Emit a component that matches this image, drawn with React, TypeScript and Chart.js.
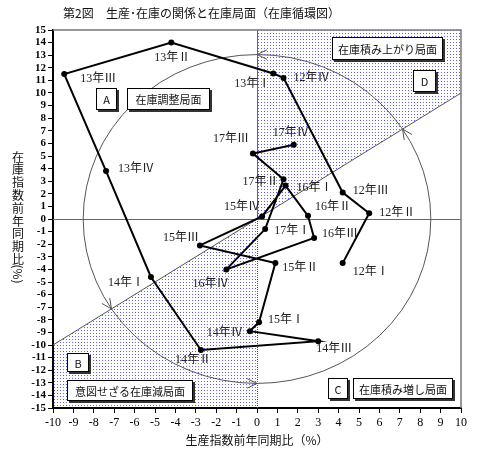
import React, { useEffect, useRef } from "react";
import { Chart, registerables } from "chart.js";

Chart.register(...registerables);

// ---- data ----
const QUARTERS = [
  "12年Ⅰ", "12年Ⅱ", "12年Ⅲ", "12年Ⅳ",
  "13年Ⅰ", "13年Ⅱ", "13年Ⅲ", "13年Ⅳ",
  "14年Ⅰ", "14年Ⅱ", "14年Ⅲ", "14年Ⅳ",
  "15年Ⅰ", "15年Ⅱ", "15年Ⅲ", "15年Ⅳ",
  "16年Ⅰ", "16年Ⅱ", "16年Ⅲ", "16年Ⅳ",
  "17年Ⅰ", "17年Ⅱ", "17年Ⅲ", "17年Ⅳ",
];
// 生産指数前年同期比 (x)
const PRODUCTION = [
  4.2, 5.5, 4.2, 1.3,
  0.8, -4.2, -9.45, -7.4,
  -5.2, -2.75, 3.0, -0.35,
  0.1, 0.9, -2.8, 0.25,
  1.4, 2.5, 2.8, -1.5,
  0.4, 1.3, -0.2, 1.8,
];
// 在庫指数前年同期比 (y)
const INVENTORY = [
  -3.5, 0.45, 2.1, 11.2,
  11.55, 14.0, 11.5, 3.8,
  -4.6, -10.4, -9.7, -8.9,
  -8.2, -3.5, -2.1, 0.2,
  2.65, 0.25, -1.5, -4.0,
  -0.8, 3.15, 5.2, 5.9,
];
const X_MIN = -10, X_MAX = 10, Y_MIN = -15, Y_MAX = 15;

const TITLE_NO = "第2図";
const TITLE = "生産･在庫の関係と在庫局面（在庫循環図）";
const X_TITLE = "生産指数前年同期比（%）";
const Y_TITLE_CHARS = ["在", "庫", "指", "数", "前", "年", "同", "期", "比"];
const Y_TITLE_UNIT = "(%)";

// cycle ellipse radii (data units)
const CYCLE_RX = 8.52, CYCLE_RY = 13.05;

// ---- layout (not data) ----
// label offsets: [dx, dy, align]
const LABEL_POS: [number, number, CanvasTextAlign][] = [
  [10, 9, "left"], [10, 0, "left"], [10, -2, "left"], [10, 0, "left"],
  [-3, 10, "right"], [1, 15, "center"], [16, 5, "left"], [12, -2, "left"],
  [-7, 6, "right"], [-8, 10, "center"], [-2, 8, "left"], [-7, 2, "right"],
  [9, -2, "left"], [7, 5, "left"], [-1, -8, "right"], [-2, -10, "right"],
  [11, 2, "left"], [7, -9, "left"], [8, -4, "left"], [-16, 14, "center"],
  [9, 2, "left"], [-5, 3, "right"], [-4, -15, "right"], [-3, -12, "center"],
];
// boxes: text, center x, center y (data units), width, height (px)
const BOXES: [string, number, number, number, number][] = [
  ["A", -7.36, 9.52, 21, 22],
  ["在庫調整局面", -4.36, 9.52, 83, 22],
  ["在庫積み上がり局面", 6.4, 13.53, 111, 23],
  ["D", 8.22, 10.95, 23, 22],
  ["B", -8.76, -11.39, 22, 19],
  ["意図せざる在庫減局面", -6.21, -13.61, 126, 21],
  ["C", 3.97, -13.45, 20, 21],
  ["在庫積み増し局面", 7.16, -13.45, 100, 21],
];

const CJK = "'Noto Sans CJK JP'";
const SERIF = "'Liberation Serif', 'Noto Sans CJK JP'";

function makePattern(ctx: CanvasRenderingContext2D) {
  const c = document.createElement("canvas");
  c.width = 3;
  c.height = 3;
  const g = c.getContext("2d")!;
  g.fillStyle = "rgb(95,95,245)";
  g.fillRect(0, 0, 1, 1);
  return ctx.createPattern(c, "repeat")!;
}

const cyclePlugin = {
  id: "cycle",
  beforeDatasetsDraw(chart: any) {
    const { ctx, chartArea: a, scales } = chart;
    const xs = scales.x, ys = scales.y;
    const px = (v: number) => xs.getPixelForValue(v);
    const py = (v: number) => ys.getPixelForValue(v);
    ctx.save();
    ctx.beginPath();
    ctx.rect(a.left, a.top, a.right - a.left, a.bottom - a.top);
    ctx.clip();

    // shaded regions D and B
    ctx.fillStyle = makePattern(ctx);
    const poly = (pts: number[][]) => {
      ctx.beginPath();
      pts.forEach((p, i) => (i ? ctx.lineTo(px(p[0]), py(p[1])) : ctx.moveTo(px(p[0]), py(p[1]))));
      ctx.closePath();
      ctx.fill();
    };
    poly([[0, 0], [X_MAX, X_MAX], [X_MAX, Y_MAX], [0, Y_MAX]]);
    poly([[0, 0], [X_MIN, X_MIN], [X_MIN, Y_MIN], [0, Y_MIN]]);

    // zero lines
    ctx.lineWidth = 1;
    ctx.strokeStyle = "#666";
    ctx.beginPath();
    ctx.moveTo(a.left, py(0) + 0.5);
    ctx.lineTo(a.right, py(0) + 0.5);
    ctx.moveTo(px(0) + 0.5, a.top);
    ctx.lineTo(px(0) + 0.5, py(0));
    ctx.stroke();
    ctx.strokeStyle = "rgb(60,60,230)";
    ctx.setLineDash([1, 1]);
    ctx.beginPath();
    ctx.moveTo(px(0) + 0.5, py(0));
    ctx.lineTo(px(0) + 0.5, a.bottom);
    ctx.stroke();
    ctx.setLineDash([]);

    // diagonal y = x
    ctx.strokeStyle = "#555";
    ctx.beginPath();
    ctx.moveTo(px(X_MIN), py(X_MIN));
    ctx.lineTo(px(X_MAX), py(X_MAX));
    ctx.stroke();

    // cycle ellipse
    const cx = px(0), cy = py(0);
    const rx = px(CYCLE_RX) - cx, ry = cy - py(CYCLE_RY);
    ctx.beginPath();
    ctx.ellipse(cx, cy, rx, ry, 0, 0, Math.PI * 2);
    ctx.stroke();

    // arrowheads (counter-clockwise)
    const tInt = Math.atan2(CYCLE_RX, CYCLE_RY);
    const ts = [Math.PI / 2, tInt + Math.PI, -Math.PI / 2, tInt];
    ts.forEach((t) => {
      const tx = cx + rx * Math.cos(t);
      const ty = cy - ry * Math.sin(t);
      let dx = -rx * Math.sin(t), dy = -ry * Math.cos(t);
      const l = Math.hypot(dx, dy);
      dx /= l; dy /= l;
      const L = 11, ang = 0.45;
      ctx.beginPath();
      for (const s of [ang, -ang]) {
        const c = Math.cos(s), sn = Math.sin(s);
        const bx = -(dx * c - dy * sn), by = -(dx * sn + dy * c);
        ctx.moveTo(tx, ty);
        ctx.lineTo(tx + bx * L, ty + by * L);
      }
      ctx.stroke();
    });
    ctx.restore();
  },
  afterDatasetsDraw(chart: any) {
    const { ctx, scales } = chart;
    const xs = scales.x, ys = scales.y;
    ctx.save();
    // boxes
    BOXES.forEach(([text, bx, by, w, h]) => {
      const x = Math.round(xs.getPixelForValue(bx) - w / 2);
      const y = Math.round(ys.getPixelForValue(by) - h / 2);
      ctx.fillStyle = "#333";
      ctx.fillRect(x + 2, y + 2, w, h);
      ctx.fillStyle = "#fff";
      ctx.fillRect(x, y, w, h);
      ctx.strokeStyle = "#000";
      ctx.lineWidth = 1;
      ctx.strokeRect(x + 0.5, y + 0.5, w - 1, h - 1);
      ctx.fillStyle = "#111";
      ctx.font = `11px ${CJK}`;
      ctx.textAlign = "center";
      ctx.textBaseline = "middle";
      ctx.fillText(text, x + w / 2, y + h / 2 + 1);
    });
    // point labels
    ctx.font = `12px ${SERIF}`;
    ctx.fillStyle = "#222";
    ctx.textBaseline = "middle";
    QUARTERS.forEach((q, i) => {
      const [dx, dy, al] = LABEL_POS[i];
      ctx.textAlign = al;
      ctx.fillText(q, xs.getPixelForValue(PRODUCTION[i]) + dx, ys.getPixelForValue(INVENTORY[i]) + dy);
    });
    ctx.restore();
  },
  afterDraw(chart: any) {
    const { ctx, chartArea: a } = chart;
    ctx.save();
    // frame top/right
    ctx.strokeStyle = "#777";
    ctx.lineWidth = 1.5;
    ctx.beginPath();
    ctx.moveTo(a.left, a.top);
    ctx.lineTo(a.right, a.top);
    ctx.lineTo(a.right, a.bottom);
    ctx.stroke();
    // title
    ctx.fillStyle = "#111";
    ctx.font = `12px ${CJK}`;
    ctx.textBaseline = "middle";
    ctx.textAlign = "left";
    ctx.fillText(TITLE_NO, 63, 13);
    ctx.fillText(TITLE, 106, 13);
    // x title
    ctx.font = `12px ${CJK}`;
    ctx.textAlign = "center";
    ctx.fillText(X_TITLE, (a.left + a.right) / 2, 440);
    // y title (stacked)
    ctx.font = `12px ${CJK}`;
    Y_TITLE_CHARS.forEach((c, i) => ctx.fillText(c, 18, 157 + i * 12.8));
    ctx.translate(18, 274);
    ctx.rotate(Math.PI / 2);
    ctx.fillText(Y_TITLE_UNIT, 0, 0);
    ctx.restore();
  },
};

export default function App() {
  const ref = useRef<HTMLCanvasElement>(null);
  useEffect(() => {
    document.body.style.margin = "0";
    const chart = new Chart(ref.current!, {
      type: "scatter",
      data: {
        datasets: [
          {
            data: PRODUCTION.map((x, i) => ({ x, y: INVENTORY[i] })),
            showLine: true,
            borderColor: "#000",
            borderWidth: 2,
            pointRadius: 3,
            pointBackgroundColor: "#000",
            pointBorderWidth: 0,
            tension: 0,
          },
        ],
      },
      options: {
        animation: false,
        responsive: false,
        devicePixelRatio: 1,
        layout: { padding: { top: 30, right: 19, left: 0, bottom: 0 } },
        plugins: { legend: { display: false }, tooltip: { enabled: false } },
        scales: {
          x: {
            type: "linear",
            min: X_MIN,
            max: X_MAX,
            afterFit: (s: any) => { s.height = 45; },
            ticks: {
              stepSize: 1, color: "#000", font: { family: SERIF, size: 12 }, padding: 3,
              autoSkip: false, maxRotation: 0, minRotation: 0,
            },
            grid: { drawOnChartArea: false, tickLength: 5, color: "#000" },
            border: { color: "#000", width: 2 },
          },
          y: {
            type: "linear",
            min: Y_MIN,
            max: Y_MAX,
            afterFit: (s: any) => { s.width = 53; },
            ticks: { stepSize: 1, color: "#000", font: { family: SERIF, size: 11, weight: "bold" }, padding: 2, autoSkip: false },
            grid: { drawOnChartArea: false, tickLength: 5, color: "#000" },
            border: { color: "#000", width: 2 },
          },
        },
      },
      plugins: [cyclePlugin],
    });
    return () => chart.destroy();
  }, []);
  return (
    <div style={{ position: "absolute", left: 0, top: 0, width: 480, height: 453 }}>
      <canvas ref={ref} width={480} height={453} />
    </div>
  );
}
